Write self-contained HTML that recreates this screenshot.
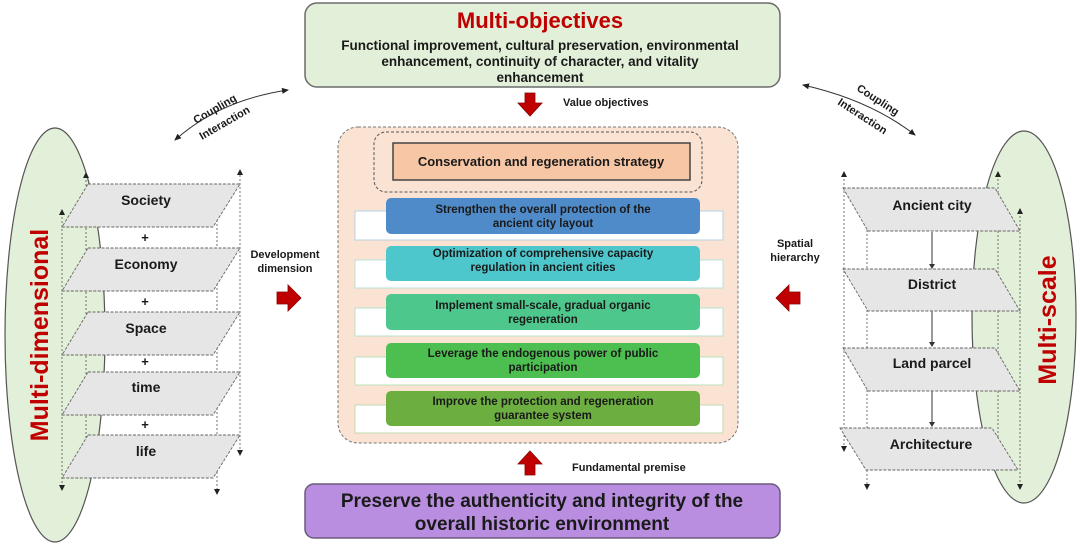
<!DOCTYPE html>
<html><head><meta charset="utf-8"><style>
html,body{margin:0;padding:0;background:#fff;width:1080px;height:545px;overflow:hidden}
svg{display:block}
text{font-family:"Liberation Sans",sans-serif;font-weight:bold;fill:#1a1a1a}
</style></head><body>
<svg width="1080" height="545" viewBox="0 0 1080 545" xmlns="http://www.w3.org/2000/svg">
<defs>
<marker id="ah" markerWidth="8" markerHeight="8" refX="6" refY="4" orient="auto"><path d="M0,1 L7,4 L0,7 Z" fill="#222"/></marker>
<marker id="ahs" markerWidth="8" markerHeight="8" refX="6" refY="4" orient="auto-start-reverse"><path d="M0,1 L7,4 L0,7 Z" fill="#222"/></marker>
</defs>

<!-- Top box -->
<rect x="305" y="3" width="475" height="84" rx="12" fill="#e2efd9" stroke="#6b6b6b" stroke-width="1.5"/>
<text x="540" y="28" text-anchor="middle" font-size="22" style="fill:#c00000">Multi-objectives</text>
<text x="540" y="50" text-anchor="middle" font-size="13.5">Functional improvement, cultural preservation, environmental</text>
<text x="540" y="66" text-anchor="middle" font-size="13.5">enhancement, continuity of character, and vitality</text>
<text x="540" y="82" text-anchor="middle" font-size="13.5">enhancement</text>

<!-- value arrow -->
<path d="M525,93 h10 v10 h7 l-12,13 l-12,-13 h7 z" fill="#c00000" stroke="#800" stroke-width="0.8"/>
<text x="563" y="106" font-size="11">Value objectives</text>

<!-- central box -->
<rect x="338" y="127" width="400" height="316" rx="20" fill="#fbe3d4" stroke="#777" stroke-width="1" stroke-dasharray="3,2"/>
<rect x="374" y="132" width="328" height="60" rx="12" fill="#fbe3d4" stroke="#555" stroke-width="1" stroke-dasharray="3,2"/>
<rect x="393" y="143" width="297" height="37" fill="#f7c6a5" stroke="#444" stroke-width="1.5"/>
<text x="541" y="166" text-anchor="middle" font-size="13">Conservation and regeneration strategy</text>

<g font-size="11.5">
<rect x="355" y="211" width="368" height="29" fill="#fff" stroke="#b8d0e0"/>
<rect x="386" y="198" width="314" height="36" rx="5" fill="#4f8bc9"/>
<text x="543" y="213" text-anchor="middle" font-size="11.5">Strengthen the overall protection of the</text>
<text x="543" y="227" text-anchor="middle" font-size="11.5">ancient city layout</text>

<rect x="355" y="260" width="368" height="28" fill="#fff" stroke="#b8e0d8"/>
<rect x="386" y="246" width="314" height="35" rx="5" fill="#4dc7cc"/>
<text x="543" y="257" text-anchor="middle" font-size="11.5">Optimization of comprehensive capacity</text>
<text x="543" y="271" text-anchor="middle" font-size="11.5">regulation in ancient cities</text>

<rect x="355" y="308" width="368" height="28" fill="#fff" stroke="#b8e0c8"/>
<rect x="386" y="294" width="314" height="36" rx="5" fill="#4dc78c"/>
<text x="543" y="309" text-anchor="middle" font-size="11.5">Implement small-scale, gradual organic</text>
<text x="543" y="323" text-anchor="middle" font-size="11.5">regeneration</text>

<rect x="355" y="357" width="368" height="28" fill="#fff" stroke="#b8e0b8"/>
<rect x="386" y="343" width="314" height="35" rx="5" fill="#4cbf50"/>
<text x="543" y="357" text-anchor="middle" font-size="11.5">Leverage the endogenous power of public</text>
<text x="543" y="371" text-anchor="middle" font-size="11.5">participation</text>

<rect x="355" y="405" width="368" height="28" fill="#fff" stroke="#c0d8b0"/>
<rect x="386" y="391" width="314" height="35" rx="5" fill="#6cae40"/>
<text x="543" y="405" text-anchor="middle" font-size="11.5">Improve the protection and regeneration</text>
<text x="543" y="419" text-anchor="middle" font-size="11.5">guarantee system</text>
</g>

<!-- fundamental arrow -->
<path d="M525,475 h10 v-11 h7 l-12,-13 l-12,13 h7 z" fill="#c00000" stroke="#800" stroke-width="0.8"/>
<text x="572" y="471" font-size="11">Fundamental premise</text>

<!-- bottom box -->
<rect x="305" y="484" width="475" height="54" rx="9" fill="#b98ee0" stroke="#6b5a7a" stroke-width="1.5"/>
<text x="542" y="507" text-anchor="middle" font-size="19">Preserve the authenticity and integrity of the</text>
<text x="542" y="530" text-anchor="middle" font-size="19">overall historic environment</text>

<!-- coupling left -->
<path d="M175,140 Q220,100 288,90" fill="none" stroke="#333" stroke-width="1" marker-start="url(#ahs)" marker-end="url(#ah)"/>
<text x="0" y="0" font-size="11" transform="translate(196,124) rotate(-30)">Coupling</text>
<text x="0" y="0" font-size="11" transform="translate(202,140) rotate(-30)">Interaction</text>
<!-- coupling right -->
<path d="M803,85 Q870,100 915,135" fill="none" stroke="#333" stroke-width="1" marker-start="url(#ahs)" marker-end="url(#ah)"/>
<text x="0" y="0" font-size="11" transform="translate(856,90) rotate(33)">Coupling</text>
<text x="0" y="0" font-size="11" transform="translate(837,104) rotate(33)">Interaction</text>

<!-- left ellipse -->
<ellipse cx="55" cy="335" rx="50" ry="207" fill="#e2efd9" stroke="#555" stroke-width="1.2"/>
<text x="0" y="0" font-size="25" transform="translate(48,335) rotate(-90)" text-anchor="middle" style="fill:#c00000">Multi-dimensional</text>

<!-- left dashed verticals -->
<g stroke="#555" stroke-width="0.8" stroke-dasharray="2,2" fill="none">
<line x1="86" y1="180" x2="86" y2="460"/>
<line x1="240" y1="175" x2="240" y2="455"/>
<line x1="62" y1="213" x2="62" y2="490"/>
<line x1="217" y1="212" x2="217" y2="490"/>
</g>
<g fill="#222">
<path d="M83,178 l3,-6 l3,6z"/><path d="M237,175 l3,-6 l3,6z"/>
<path d="M59,215 l3,-6 l3,6z"/><path d="M214,214 l3,-6 l3,6z"/>
<path d="M237,450 l3,6 l3,-6z"/><path d="M59,485 l3,6 l3,-6z"/><path d="M214,489 l3,6 l3,-6z"/>
</g>
<g fill="#e6e6e6" stroke="#666" stroke-width="0.9" stroke-dasharray="3,1.5">
<polygon points="88,184 240,184 213,227 62,227"/>
<polygon points="88,248 240,248 213,291 62,291"/>
<polygon points="88,312 240,312 213,355 62,355"/>
<polygon points="88,372 240,372 213,415 62,415"/>
<polygon points="88,435 240,435 213,478 62,478"/>
</g>
<g font-size="14" text-anchor="middle">
<text x="146" y="205">Society</text>
<text x="146" y="269">Economy</text>
<text x="146" y="333">Space</text>
<text x="146" y="392">time</text>
<text x="146" y="456">life</text>
</g>
<g font-size="13" text-anchor="middle">
<text x="145" y="242">+</text><text x="145" y="306">+</text><text x="145" y="366">+</text><text x="145" y="429">+</text>
</g>
<text x="285" y="258" text-anchor="middle" font-size="11">Development</text>
<text x="285" y="272" text-anchor="middle" font-size="11">dimension</text>
<path d="M277,292 h11 v-7 l13,13 l-13,13 v-7 h-11 z" fill="#c00000" stroke="#800" stroke-width="0.8"/>

<!-- right ellipse -->
<ellipse cx="1024" cy="317" rx="52" ry="186" fill="#e2efd9" stroke="#555" stroke-width="1.2"/>
<text x="0" y="0" font-size="25" transform="translate(1056,320) rotate(-90)" text-anchor="middle" style="fill:#c00000">Multi-scale</text>

<g stroke="#555" stroke-width="0.8" stroke-dasharray="2,2" fill="none">
<line x1="844" y1="175" x2="844" y2="450"/>
<line x1="867" y1="210" x2="867" y2="485"/>
<line x1="998" y1="175" x2="998" y2="455"/>
<line x1="1020" y1="212" x2="1020" y2="485"/>
</g>
<g fill="#222">
<path d="M841,177 l3,-6 l3,6z"/><path d="M864,212 l3,-6 l3,6z"/><path d="M995,177 l3,-6 l3,6z"/><path d="M1017,214 l3,-6 l3,6z"/>
<path d="M841,446 l3,6 l3,-6z"/><path d="M864,484 l3,6 l3,-6z"/><path d="M1017,484 l3,6 l3,-6z"/>
</g>
<g stroke="#333" stroke-width="1">
<line x1="932" y1="232" x2="932" y2="266"/><line x1="932" y1="311" x2="932" y2="344"/><line x1="932" y1="391" x2="932" y2="424"/>
</g>
<g fill="#333"><path d="M929,264 l3,5 l3,-5z"/><path d="M929,342 l3,5 l3,-5z"/><path d="M929,422 l3,5 l3,-5z"/></g>
<g fill="#e6e6e6" stroke="#666" stroke-width="0.9" stroke-dasharray="3,1.5">
<polygon points="843,188 995,188 1020,231 868,231"/>
<polygon points="843,269 995,269 1020,311 868,311"/>
<polygon points="843,348 995,348 1020,391 868,391"/>
<polygon points="840,428 992,428 1018,470 866,470"/>
</g>
<g font-size="14" text-anchor="middle">
<text x="932" y="210">Ancient city</text>
<text x="932" y="289">District</text>
<text x="932" y="368">Land parcel</text>
<text x="931" y="449">Architecture</text>
</g>
<text x="795" y="247" text-anchor="middle" font-size="11">Spatial</text>
<text x="795" y="261" text-anchor="middle" font-size="11">hierarchy</text>
<path d="M800,292 h-11 v-7 l-13,13 l13,13 v-7 h11 z" fill="#c00000" stroke="#800" stroke-width="0.8"/>
</svg>
</body></html>
